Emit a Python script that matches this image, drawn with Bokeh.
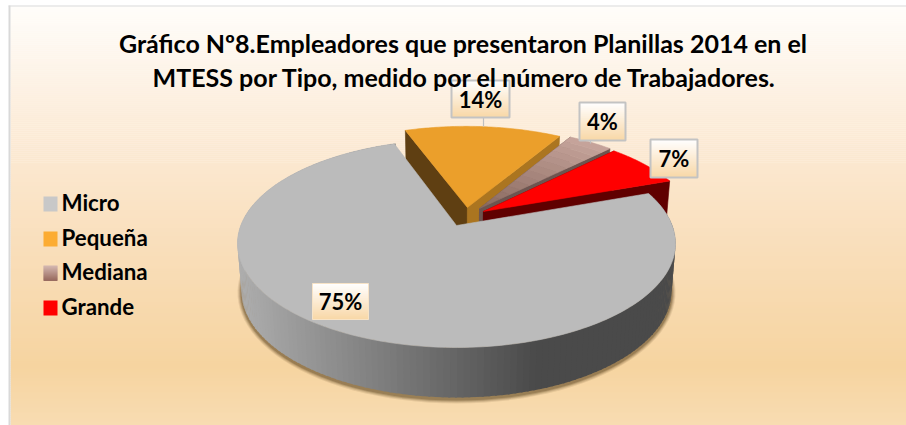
from math import cos, sin, radians, sqrt
from bokeh.plotting import figure
from bokeh.models import Range1d
from bokeh.core.properties import value
from bokeh.embed import file_html
from bokeh.resources import INLINE

categorias = ["Micro", "Pequeña", "Mediana", "Grande"]
porcentajes = [75, 14, 4, 7]
titulo = ["Gráfico Nº8.Empleadores que presentaron Planillas 2014 en el",
          "MTESS por Tipo, medido por el número de Trabajadores."]

FONT = value("Lato")
START = -109.6 + 90  # where the first slice begins, degrees clockwise on screen
A = -0.173           # perspective: screen position of the true centre
TOP = (456, 243, 219, 104)
BOT = (456, 290, 215, 107)
EXPLODE = [(0, 0), (.052, -.184), (.11, -.174), (.128, -.143)]


def proj(X, Y, e):
    w = 1 + A * Y
    return (e[0] + e[2] * X * sqrt(1 - A * A) / w, e[1] + e[3] * (Y + A) / w)


def pt(ang, r, off, e):
    t = radians(ang)
    return proj(off[0] + r * cos(t), off[1] + r * sin(t), e)


def mix(c0, c1, t):
    t = max(0, min(1, t))
    return "#%02x%02x%02x" % tuple(round(a + (b - a) * t) for a, b in zip(c0, c1))


def hexrgb(h):
    return tuple(int(h[i:i + 2], 16) for i in (1, 3, 5))


p = figure(width=906, height=425, x_range=Range1d(0, 906), y_range=Range1d(425, 0),
           output_backend="svg", toolbar_location=None, min_border=0,
           outline_line_color=None, background_fill_color="white",
           border_fill_color=None)
p.axis.visible = False
p.grid.visible = False


def poly(points, color, alpha=1.0, lw=0.6):
    xs, ys = zip(*points)
    p.patch(list(xs), list(ys), fill_color=color, line_color=color, line_width=lw,
            fill_alpha=alpha, line_alpha=alpha if lw else 0)


def vgrad(x0, x1, y0, y1, stops, n=None):
    n = n or max(2, int(y1 - y0))
    h = (y1 - y0) / n
    tops, cols = [], []
    for i in range(n):
        t = (i + .5) / n
        for (t0, c0), (t1, c1) in zip(stops, stops[1:]):
            if t0 <= t <= t1:
                cols.append(mix(hexrgb(c0), hexrgb(c1), (t - t0) / (t1 - t0)))
                break
        tops.append(y0 + i * h)
    p.quad(left=x0, right=x1, top=tops, bottom=[t + h + .4 for t in tops],
           fill_color=cols, line_color=None)


# background
vgrad(10, 906, 6, 425, [(0, "#fffdfa"), (.28, "#fcecd9"), (.58, "#f9deba"),
                        (.86, "#f6d4a0"), (1, "#f8dcb2")], n=210)
p.quad(left=8, right=10, top=5, bottom=425, fill_color="#d9d9d9", line_color=None)
p.quad(left=8, right=906, top=5, bottom=6, fill_color="#d9d9d9", line_color=None)

# slice angle spans
spans, a0 = [], START
for v in porcentajes:
    spans.append((a0, a0 + v * 3.6))
    a0 += v * 3.6


def arc(a, b, off, e, n=60):
    return [pt(a + (b - a) * i / n, 1, off, e) for i in range(n + 1)]


# soft shadow under the pie
for d, al in ((4, .10), (3, .14), (2, .2), (1, .25)):
    e = (BOT[0], BOT[1] + 2, BOT[2] + d, BOT[3] + d)
    poly(arc(0, 360, (0, 0), e, 120), "#4a3210", alpha=al, lw=0)

# exploded slices: walls, then top faces
wall_left = [None, "#5f3f12", "#6d5550", "#600000"]
wall_right = [None, "#ab7520", "#6d5550", "#600000"]
for i in (1, 2, 3):
    a, b = spans[i]
    off = EXPLODE[i]
    ap_t, ap_b = proj(*off, TOP), proj(*off, BOT)
    poly([ap_t, pt(a, 1, off, TOP), pt(a, 1, off, BOT), ap_b], wall_left[i])
    poly([ap_t, pt(b, 1, off, TOP), pt(b, 1, off, BOT), ap_b], wall_right[i])
    if i == 1:
        poly([ap_t] + arc(a, b, off, TOP), "#eb9f2b")
    elif i == 3:
        poly([ap_t] + arc(a, b, off, TOP), "#ff0000")
    else:
        n = 14
        for k in range(n):
            r0, r1 = k / n, (k + 1) / n
            ring = [pt(a + (b - a) * j / 8, r1, off, TOP) for j in range(9)] + \
                   [pt(b - (b - a) * j / 8, r0, off, TOP) for j in range(9)]
            poly(ring, mix(hexrgb("#8a6a60"), hexrgb("#c7a59c"), (k + .5) / n))

# Micro: wall strips shaded left to right, then top face
a, b = spans[0]
N = 180
xs, ys, cols = [], [], []
for i in range(N):
    u0, u1 = a + (b - a) * i / N, a + (b - a) * (i + 1.3) / N
    t0, t1, b1, b0 = pt(u0, 1, (0, 0), TOP), pt(u1, 1, (0, 0), TOP), pt(u1, 1, (0, 0), BOT), pt(u0, 1, (0, 0), BOT)
    xs.append([t0[0], t1[0], b1[0], b0[0]])
    ys.append([t0[1], t1[1], b1[1], b0[1]])
    cols.append(mix(hexrgb("#adadad"), hexrgb("#4a4a4a"), (t0[0] - 240) / 300))
p.patches(xs, ys, fill_color=cols, line_color=None)
poly([proj(0, 0, TOP)] + arc(a, b, (0, 0), TOP, 200), "#bbbbbb")

# leaders
p.segment(x0=[483, 590], y0=[116, 139], x1=[483, 590], y1=[126, 143], line_color="#bfbfbf", line_width=1.2)

# data labels
boxes = [(312, 368, 283, 319, "#f7e3c6", 1), (451, 509, 80, 117, "#c3c3c3", 2),
         (579, 625, 102, 140, "#c3c3c3", 2), (650, 697, 139, 177, "#c3c3c3", 2)]
for (x0, x1, y0, y1, lc, lw), v in zip(boxes, porcentajes):
    vgrad(x0, x1, y0, y1, [(0, "#ffffff"), (.35, "#fdf1e0"), (1, "#f8d7a6")])
    p.quad(left=x0, right=x1, top=y0, bottom=y1, fill_color=None, line_color=lc, line_width=lw)
    p.text(x=[(x0 + x1) / 2], y=[(y0 + y1) / 2], text=[f"{v}%"], text_font=FONT,
           text_font_style="bold", text_font_size="22px", text_align="center",
           text_baseline="middle", text_color="#000000")

# legend
sw_y = [196, 231, 265, 300]
sw_col = ["#c8c8c8", "#fcac33", None, "#ff0000"]
for y, c, name in zip(sw_y, sw_col, categorias):
    if c:
        p.quad(left=43, right=57, top=y, bottom=y + 15, fill_color=c, line_color=None)
    else:
        vgrad(43, 57, y, y + 15, [(0, "#d5b9b2"), (1, "#97695d")])
    p.text(x=[61], y=[y + 6], text=[name], text_font=FONT, text_font_style="bold",
           text_font_size="22.3px", text_align="left", text_baseline="middle", text_color="#000000")

# title, drawn over the label boxes
p.text(x=[462.5, 464.5], y=[42.5, 76], text=titulo, text_font=FONT, text_font_style="bold",
       text_font_size="25px", text_align="center", text_baseline="middle", text_color="#000000")

open("out.html", "w").write(file_html(p, INLINE))
